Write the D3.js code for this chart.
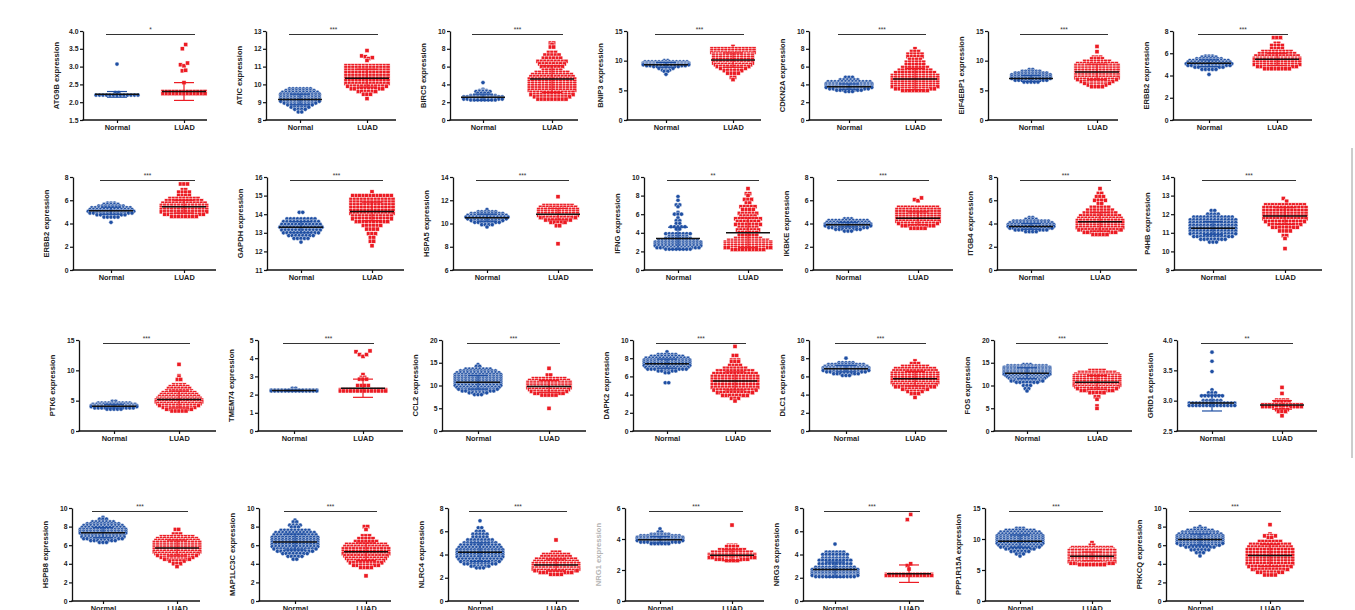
<!DOCTYPE html>
<html>
<head>
<meta charset="utf-8">
<script src="https://cdn.jsdelivr.net/npm/d3@7"></script>
<style>
  body { margin: 0; background: #fff; }
  svg { display: block; font-family: "Liberation Sans", Arial, sans-serif; }
</style>
</head>
<body>
<svg id="chart" width="1355" height="610"></svg>
<script>
const groups = ["Normal", "LUAD"];

const genes = ["ATG9B", "ATIC", "BIRC5", "BNIP3", "CDKN2A", "EIF4EBP1", "ERBB2",
  "ERBB2", "GAPDH", "HSPA5", "IFNG", "IKBKE", "ITGB4", "P4HB",
  "PTK6", "TMEM74", "CCL2", "DAPK2", "DLC1", "FOS", "GRID1",
  "HSPB8", "MAP1LC3C", "NLRC4", "NRG1", "NRG3", "PPP1R15A", "PRKCQ"];

const yTicks = [
  [1.5, 2, 2.5, 3, 3.5, 4], [8, 9, 10, 11, 12, 13], [0, 2, 4, 6, 8, 10], [0, 5, 10, 15],
  [0, 2, 4, 6, 8, 10], [0, 5, 10, 15], [0, 2, 4, 6, 8],
  [0, 2, 4, 6, 8], [11, 12, 13, 14, 15, 16], [6, 8, 10, 12, 14], [0, 2, 4, 6, 8, 10],
  [0, 2, 4, 6, 8], [0, 2, 4, 6, 8], [9, 10, 11, 12, 13, 14],
  [0, 5, 10, 15], [0, 1, 2, 3, 4, 5], [0, 5, 10, 15, 20], [0, 2, 4, 6, 8, 10],
  [0, 2, 4, 6, 8, 10], [0, 5, 10, 15, 20], [2.5, 3, 3.5, 4],
  [0, 2, 4, 6, 8, 10], [0, 2, 4, 6, 8, 10], [0, 2, 4, 6, 8], [0, 2, 4, 6],
  [0, 2, 4, 6, 8], [0, 5, 10, 15], [0, 2, 4, 6, 8, 10]];

const stars = ["*", "***", "***", "***", "***", "***", "***",
  "***", "***", "***", "**", "***", "***", "***",
  "***", "***", "***", "***", "***", "***", "**",
  "***", "***", "***", "***", "***", "***", "***"];

const normalMean = [2.22, 9.15, 2.55, 9.3, 3.75, 7.0, 5.1, 5.1, 13.3, 10.5, 3.4, 3.9, 3.75, 11.25,
  4.1, 2.22, 10.7, 7.4, 6.85, 12.7, 2.96, 7.35, 6.35, 4.2, 3.95, 2.7, 9.65, 6.6];
const luadMean = [2.3, 10.35, 4.6, 10.1, 4.6, 8.1, 5.45, 5.45, 14.15, 10.8, 4.0, 4.45, 4.15, 11.9,
  5.2, 2.35, 9.8, 5.5, 5.75, 10.7, 2.93, 5.7, 5.3, 3.1, 2.95, 2.35, 7.2, 4.9];
const normalSD = [0.08, 0.3, 0.35, 0.4, 0.3, 0.5, 0.3, 0.3, 0.3, 0.3, 1.2, 0.2, 0.25, 0.35,
  0.3, 0.03, 1.5, 0.5, 0.35, 1.2, 0.13, 0.55, 0.85, 0.8, 0.2, 0.65, 1.0, 0.6];
const luadSD = [0.25, 0.5, 1.5, 1.2, 1.2, 1.3, 0.55, 0.55, 0.5, 0.5, 1.6, 0.55, 0.8, 0.45,
  1.4, 0.5, 1.3, 1.0, 0.8, 1.5, 0.07, 0.85, 0.95, 0.5, 0.35, 0.75, 0.7, 1.2];

// each row: [value, count] or [[v1, v2, ...]] for single points side by side
const normalRows = [
  [[3.07, 1], [2.27, 2], [2.2, 13]],
  [[9.75, 7], [9.65, 9], [9.55, 11], [9.45, 12], [9.35, 12], [9.25, 12], [9.15, 12], [9.05, 12], [8.95, 10], [8.85, 8], [8.72, 6], [8.6, 4], [8.45, 2]],
  [[4.2, 1], [3.45, 1], [3.3, 3], [3.2, 5], [3.0, 4], [2.75, 8], [2.6, 12], [2.45, 12], [2.35, 12], [2.25, 8]],
  [[10.0, 2], [9.8, 13], [9.6, 14], [9.45, 14], [9.3, 14], [9.15, 12], [9.0, 8], [8.7, 5], [8.4, 3], [8.2, 2], [7.7, 1]],
  [[4.8, 3], [4.5, 6], [4.3, 13], [4.1, 14], [3.95, 14], [3.8, 14], [3.65, 14], [3.5, 12], [3.35, 8], [3.2, 3]],
  [[8.5, 2], [8.2, 6], [7.9, 10], [7.6, 12], [7.3, 12], [7.0, 12], [6.7, 10], [6.4, 5]],
  [[5.75, 3], [5.65, 5], [5.5, 8], [5.35, 12], [5.2, 13], [5.05, 14], [4.9, 13], [4.75, 9], [4.55, 5], [4.1, 1]],
  [[5.75, 3], [5.65, 5], [5.5, 8], [5.35, 12], [5.2, 13], [5.05, 14], [4.9, 13], [4.75, 9], [4.55, 5], [4.1, 1]],
  [[14.1, 2], [13.75, 9], [13.6, 11], [13.45, 12], [13.3, 13], [13.15, 12], [13.0, 11], [12.85, 8], [12.7, 5], [12.5, 1]],
  [[11.2, 1], [11.0, 6], [10.85, 10], [10.7, 12], [10.55, 13], [10.4, 12], [10.25, 10], [10.1, 8], [9.9, 4], [9.7, 1]],
  [[7.9, 1], [7.5, 1], [7.0, 2], [6.8, 1], [6.2, 1], [6.0, 3], [5.6, 1], [5.3, 2], [5.0, 2], [4.65, 5], [4.4, 2], [3.9, 8], [3.6, 6], [3.4, 8], [3.2, 12], [3.0, 14], [2.8, 14], [2.6, 14], [2.4, 13], [2.25, 8]],
  [[4.4, 3], [4.25, 12], [4.1, 13], [3.95, 14], [3.8, 14], [3.65, 12], [3.5, 8], [3.35, 3]],
  [[4.5, 2], [4.35, 4], [4.2, 11], [4.05, 13], [3.9, 14], [3.75, 14], [3.6, 13], [3.45, 10], [3.3, 4]],
  [[12.2, 2], [12.0, 4], [11.85, 12], [11.7, 14], [11.55, 14], [11.4, 14], [11.25, 14], [11.1, 14], [10.95, 14], [10.8, 12], [10.65, 8], [10.5, 3]],
  [[4.9, 2], [4.6, 10], [4.4, 13], [4.2, 14], [4.0, 14], [3.8, 12], [3.6, 5]],
  [[2.35, 2], [2.25, 14], [2.2, 14]],
  [[14.6, 1], [14.2, 2], [13.6, 8], [13.2, 11], [12.8, 13], [12.4, 14], [12.0, 14], [11.6, 14], [11.2, 14], [10.8, 14], [10.4, 14], [10.0, 14], [9.6, 13], [9.2, 12], [8.8, 10], [8.4, 6], [8.0, 3]],
  [[8.7, 1], [8.4, 6], [8.2, 10], [8.0, 13], [7.8, 14], [7.6, 14], [7.4, 14], [7.2, 14], [7.0, 13], [6.8, 12], [6.6, 6], [6.4, 2], [5.3, 2]],
  [[8.0, 1], [7.5, 5], [7.3, 11], [7.1, 13], [6.95, 14], [6.8, 14], [6.65, 14], [6.5, 12], [6.3, 8], [6.1, 3]],
  [[14.6, 3], [14.3, 12], [14.0, 14], [13.7, 14], [13.4, 14], [13.1, 14], [12.8, 14], [12.5, 14], [12.2, 13], [11.9, 12], [11.6, 11], [11.3, 10], [11.0, 10], [10.7, 7], [10.0, 3], [9.3, 2], [8.8, 1]],
  [[3.8, 1], [3.65, 1], [3.48, 1], [3.18, 1], [3.13, 3], [3.08, 7], [3.0, 6], [2.96, 14], [2.92, 14]],
  [[9.0, 1], [8.8, 3], [8.5, 7], [8.3, 10], [8.1, 12], [7.9, 13], [7.7, 14], [7.5, 14], [7.3, 14], [7.1, 13], [6.9, 13], [6.7, 12], [6.5, 8], [6.3, 3]],
  [[8.7, 1], [8.5, 2], [8.15, 4], [7.95, 3], [7.6, 9], [7.35, 12], [7.1, 13], [6.85, 14], [6.6, 14], [6.35, 14], [6.1, 14], [5.85, 14], [5.6, 13], [5.35, 11], [5.1, 8], [4.8, 5], [4.5, 2]],
  [[6.9, 1], [6.3, 2], [6.0, 3], [5.75, 5], [5.5, 5], [5.25, 8], [5.0, 10], [4.8, 12], [4.6, 13], [4.4, 14], [4.2, 14], [4.0, 14], [3.8, 14], [3.6, 13], [3.4, 12], [3.2, 10], [3.0, 6], [2.85, 3]],
  [[4.65, 1], [4.45, 2], [4.3, 6], [4.2, 12], [4.1, 14], [4.0, 14], [3.9, 14], [3.8, 12], [3.7, 6]],
  [[4.9, 1], [4.2, 6], [4.0, 8], [3.7, 8], [3.5, 10], [3.2, 10], [2.9, 12], [2.7, 14], [2.5, 14], [2.35, 14], [2.2, 14], [2.1, 12]],
  [[11.7, 3], [11.4, 9], [11.1, 12], [10.8, 13], [10.5, 14], [10.2, 14], [9.9, 14], [9.6, 14], [9.3, 14], [9.0, 13], [8.7, 12], [8.4, 9], [8.0, 6], [7.6, 3], [7.25, 1]],
  [[8.0, 1], [7.8, 4], [7.6, 8], [7.4, 11], [7.2, 13], [7.0, 14], [6.8, 14], [6.6, 14], [6.4, 14], [6.2, 14], [6.0, 12], [5.8, 9], [5.5, 6], [5.2, 3], [4.85, 1]]
];

const luadRows = [
  [[[3.5, 3.62]], [[3.05, 3.02, 3.1]], [[2.88, 2.9]], [2.55, 1], [2.3, 13], [2.24, 13]],
  [[11.9, 1], [[11.6, 11.55, 11.45, 11.5]], [11.35, 1], [11.05, 13], [10.95, 13], [10.8, 13], [10.65, 13], [10.5, 13], [10.35, 13], [10.2, 13], [10.05, 13], [9.9, 12], [9.75, 10], [9.6, 6], [9.45, 3], [9.2, 1]],
  [[8.65, 2], [8.5, 1], [8.2, 2], [7.6, 3], [7.3, 5], [6.95, 6], [6.6, 9], [6.3, 8], [6.0, 7], [5.6, 6], [5.35, 10], [5.1, 12], [4.85, 13], [4.6, 14], [4.35, 14], [4.1, 14], [3.85, 14], [3.6, 14], [3.35, 14], [3.1, 13], [2.85, 13], [2.6, 11], [2.35, 9]],
  [[12.4, 1], [12.0, 13], [11.7, 13], [11.4, 13], [11.1, 12], [10.8, 12], [10.5, 12], [10.2, 12], [9.9, 12], [9.6, 12], [9.3, 11], [9.0, 10], [8.7, 8], [8.3, 6], [7.9, 4], [7.2, 2], [6.8, 1]],
  [[8.0, 1], [7.7, 3], [7.4, 5], [7.1, 5], [6.8, 4], [6.5, 6], [6.2, 6], [5.9, 8], [5.6, 10], [5.3, 12], [5.0, 14], [4.75, 14], [4.5, 14], [4.25, 14], [4.0, 14], [3.75, 14], [3.5, 12], [3.3, 8]],
  [[12.4, 1], [11.5, 1], [10.6, 3], [10.3, 4], [9.9, 8], [9.5, 12], [9.2, 13], [8.9, 13], [8.6, 13], [8.3, 13], [8.0, 13], [7.7, 13], [7.4, 13], [7.1, 13], [6.8, 12], [6.5, 10], [6.2, 8], [5.9, 6], [5.6, 4]],
  [[7.4, 3], [6.9, 2], [6.7, 4], [6.4, 4], [6.15, 9], [5.95, 11], [5.75, 13], [5.55, 14], [5.4, 14], [5.2, 14], [5.0, 14], [4.8, 12], [4.6, 8]],
  [[7.4, 3], [6.9, 2], [6.7, 4], [6.4, 4], [6.15, 9], [5.95, 11], [5.75, 13], [5.55, 14], [5.4, 14], [5.2, 14], [5.0, 14], [4.8, 12], [4.6, 8]],
  [[15.2, 1], [15.0, 12], [14.8, 13], [14.65, 13], [14.5, 13], [14.35, 13], [14.2, 13], [14.05, 13], [13.9, 12], [13.75, 12], [13.6, 10], [13.4, 6], [13.2, 4], [12.95, 3], [12.75, 2], [12.55, 2], [12.3, 1]],
  [[12.3, 1], [11.55, 9], [11.4, 11], [11.2, 12], [11.0, 12], [10.85, 12], [10.7, 12], [10.5, 11], [10.3, 8], [10.1, 5], [9.8, 2], [8.25, 1]],
  [[8.75, 1], [8.2, 2], [8.0, 1], [7.6, 3], [7.2, 2], [6.8, 5], [6.5, 4], [6.1, 6], [5.8, 5], [5.5, 8], [5.2, 7], [4.9, 8], [4.6, 6], [4.3, 7], [4.0, 6], [3.7, 6], [3.4, 8], [3.2, 12], [3.0, 14], [2.8, 14], [2.6, 14], [2.4, 14], [2.2, 10]],
  [[[6.05, 5.95, 6.2]], [5.4, 12], [5.2, 13], [5.0, 13], [4.8, 13], [4.6, 13], [4.4, 13], [4.2, 13], [4.0, 12], [3.8, 10], [3.6, 5]],
  [[7.0, 1], [6.6, 2], [6.3, 3], [6.0, 4], [5.7, 2], [5.4, 6], [5.15, 8], [4.9, 10], [4.65, 12], [4.45, 13], [4.25, 14], [4.05, 14], [3.85, 14], [3.65, 14], [3.45, 13], [3.25, 10], [3.05, 5]],
  [[[12.85, 12.7]], [12.5, 12], [12.35, 13], [12.2, 13], [12.05, 13], [11.9, 13], [11.75, 13], [11.6, 12], [11.45, 10], [11.3, 8], [11.1, 4], [10.85, 2], [10.7, 1], [10.15, 1]],
  [[11.0, 1], [9.1, 1], [8.9, 1], [8.5, 2], [7.6, 4], [7.3, 6], [7.0, 7], [6.6, 8], [6.3, 10], [6.0, 11], [5.7, 12], [5.4, 13], [5.1, 14], [4.8, 14], [4.5, 13], [4.2, 12], [3.9, 10], [3.6, 8], [3.3, 5]],
  [[[4.35, 4.2, 4.1, 4.2, 4.4]], [3.1, 1], [2.95, 2], [2.85, 3], [2.5, 4], [2.27, 14], [2.2, 14]],
  [[13.8, 1], [12.3, 2], [11.5, 10], [11.1, 12], [10.7, 13], [10.3, 13], [9.9, 13], [9.5, 13], [9.1, 12], [8.7, 11], [8.3, 9], [7.9, 5], [5.0, 1]],
  [[9.3, 1], [8.3, 2], [7.8, 3], [7.6, 3], [7.2, 4], [6.9, 7], [6.6, 11], [6.3, 13], [6.0, 14], [5.7, 14], [5.4, 14], [5.1, 14], [4.8, 14], [4.5, 13], [4.2, 11], [3.9, 8], [3.6, 3], [3.3, 1]],
  [[7.7, 1], [7.4, 3], [7.1, 8], [6.85, 12], [6.6, 13], [6.35, 14], [6.1, 14], [5.85, 14], [5.6, 14], [5.35, 14], [5.1, 13], [4.85, 12], [4.6, 8], [4.35, 5], [4.1, 3], [3.7, 1]],
  [[13.3, 5], [12.9, 11], [12.5, 13], [12.1, 14], [11.7, 14], [11.3, 14], [10.9, 14], [10.5, 14], [10.1, 14], [9.7, 13], [9.3, 12], [8.9, 10], [8.4, 5], [7.5, 2], [7.0, 1], [5.5, 1], [5.0, 1]],
  [[3.22, 1], [3.12, 1], [3.01, 4], [2.98, 5], [2.93, 12], [2.9, 12], [2.85, 4], [2.82, 3], [2.75, 1]],
  [[7.7, 2], [7.2, 3], [6.9, 10], [6.7, 12], [6.5, 13], [6.3, 14], [6.1, 14], [5.9, 14], [5.7, 14], [5.5, 14], [5.3, 14], [5.1, 13], [4.9, 12], [4.7, 10], [4.5, 8], [4.3, 5], [4.0, 3], [3.7, 1]],
  [[8.0, 2], [7.7, 1], [7.0, 3], [6.7, 5], [6.4, 7], [6.1, 12], [5.85, 13], [5.6, 14], [5.35, 14], [5.1, 14], [4.85, 13], [4.6, 12], [4.35, 11], [4.1, 10], [3.85, 8], [3.6, 4], [2.7, 1]],
  [[5.25, 1], [4.2, 3], [4.0, 8], [3.8, 9], [3.6, 12], [3.4, 13], [3.2, 14], [3.05, 14], [2.9, 14], [2.75, 14], [2.6, 13], [2.45, 10], [2.3, 4]],
  [[4.9, 1], [3.6, 3], [3.5, 4], [3.3, 8], [3.15, 12], [3.0, 14], [2.9, 14], [2.8, 14], [2.7, 10], [2.6, 4]],
  [[[7.0, 7.45]], [[3.05, 3.2]], [2.75, 1], [2.3, 14], [2.2, 14]],
  [[9.4, 1], [9.0, 2], [8.6, 12], [8.35, 13], [8.1, 14], [7.85, 14], [7.6, 14], [7.35, 14], [7.1, 14], [6.85, 14], [6.6, 14], [6.35, 14], [6.1, 13], [5.85, 8]],
  [[8.2, 1], [7.2, 1], [7.0, 4], [6.8, 2], [6.4, 7], [6.1, 12], [5.8, 13], [5.5, 14], [5.2, 14], [4.9, 14], [4.6, 14], [4.3, 14], [4.0, 14], [3.7, 13], [3.4, 11], [3.1, 8], [2.8, 4]]
];

// panel layout (pixels), per grid row: y-axis x, x-axis right end, group centres
const rowTop = [31, 177, 340, 508];
const rowBottom = [120, 270, 431, 601];
const axisLeft = [
  [83, 266, 450, 627, 809, 988, 1173],
  [73, 267, 453, 644, 813, 997, 1174],
  [79, 258, 442, 633, 809, 994, 1177],
  [72, 259, 448, 625, 803, 985, 1166]];
const axisRight = [
  [207, 396, 578, 761, 942, 1118, 1312],
  [216, 404, 593, 783, 953, 1137, 1322],
  [216, 403, 586, 771, 947, 1132, 1317],
  [200, 391, 579, 764, 924, 1111, 1304]];
const normalX = [
  [117, 300, 483, 666, 849, 1031, 1209],
  [111, 301, 487, 678, 848, 1031, 1213],
  [114, 294, 478, 667, 846, 1027, 1212],
  [103, 295, 480, 660, 835, 1020, 1200]];
const luadX = [
  [184, 367, 552, 733, 915, 1097, 1277],
  [184, 372, 558, 748, 918, 1100, 1285],
  [179, 363, 549, 735, 915, 1097, 1282],
  [177, 366, 556, 732, 909, 1092, 1270]];

const blue = "#1f4fa3", red = "#ec1c24";
const dx = 3.5;

const svg = d3.select("#chart");

function expand(rows, cx, y) {
  const pts = [];
  rows.forEach(row => {
    const vals = Array.isArray(row[0]) ? row[0] : d3.range(row[1]).map(() => row[0]);
    const n = vals.length;
    vals.forEach((v, k) => pts.push({ x: cx + (k - (n - 1) / 2) * dx, y: y(v) }));
  });
  return pts;
}

genes.forEach((gene, i) => {
  const r = Math.floor(i / 7), c = i % 7;
  const x0 = axisLeft[r][c], x1 = axisRight[r][c];
  const top = rowTop[r], bottom = rowBottom[r];
  const g = svg.append("g");

  const y = d3.scaleLinear().domain(d3.extent(yTicks[i])).range([bottom, top]);
  const x = d3.scalePoint().domain(groups).range([normalX[r][c], luadX[r][c]]);
  const decimal = yTicks[i].some(t => t % 1 !== 0);
  const fmt = decimal ? d3.format(".1f") : d3.format("d");

  // y axis
  const ya = g.append("g").attr("transform", `translate(${x0},0)`)
    .call(d3.axisLeft(y).tickValues(yTicks[i]).tickFormat(fmt).tickSize(3).tickSizeOuter(0));
  ya.select(".domain").attr("stroke", "#111").attr("stroke-width", 1.3);
  ya.selectAll(".tick line").attr("stroke", "#111").attr("stroke-width", 1.2);
  ya.selectAll(".tick text").attr("x", -4.5).attr("font-size", 6.8).attr("font-weight", "bold")
    .attr("fill", "#222").attr("font-family", "Liberation Sans, Arial, sans-serif");

  // x axis
  const xa = g.append("g").attr("transform", `translate(0,${bottom})`)
    .call(d3.axisBottom(x).tickSize(3).tickSizeOuter(0));
  xa.select(".domain").remove();
  xa.selectAll(".tick line").attr("stroke", "#111").attr("stroke-width", 1.2);
  xa.selectAll(".tick text").attr("y", 5).attr("font-size", 7.4).attr("font-weight", "bold")
    .attr("fill", "#222").attr("font-family", "Liberation Sans, Arial, sans-serif");
  g.append("line").attr("x1", x0 - 0.6).attr("x2", x1).attr("y1", bottom).attr("y2", bottom)
    .attr("stroke", "#111").attr("stroke-width", 1.3);

  // y label
  g.append("text")
    .attr("transform", `translate(${x0 - 24},${(top + bottom) / 2}) rotate(-90)`)
    .attr("text-anchor", "middle").attr("font-size", 7.6).attr("font-weight", "bold")
    .attr("fill", gene === "NRG1" ? "#b5b5b5" : "#222")
    .text(gene + " expression");

  // significance bar
  const s0 = x("Normal") - 11, s1 = x("LUAD") + 11;
  g.append("line").attr("x1", s0).attr("x2", s1)
    .attr("y1", top + 3.5).attr("y2", top + 3.5).attr("stroke", "#333").attr("stroke-width", 1.1);
  g.append("text").attr("x", (s0 + s1) / 2).attr("y", top + 1)
    .attr("text-anchor", "middle").attr("font-size", 6.5).attr("fill", "#333").text(stars[i]);

  // points (thin white rims give the row texture of the original)
  const nPts = expand(normalRows[i], x("Normal"), y);
  const lPts = expand(luadRows[i], x("LUAD"), y);
  g.append("g").selectAll("circle").data(nPts).join("circle")
    .attr("cx", d => d.x).attr("cy", d => d.y).attr("r", 2.1).attr("fill", blue)
    .attr("stroke", "#fff").attr("stroke-width", 0.45);
  g.append("g").selectAll("rect").data(lPts).join("rect")
    .attr("x", d => d.x - 2.05).attr("y", d => d.y - 2.05).attr("width", 4.1).attr("height", 4.1)
    .attr("fill", red).attr("stroke", "#fff").attr("stroke-width", 0.45);

  // mean ± SD
  [["Normal", normalMean[i], normalSD[i], blue], ["LUAD", luadMean[i], luadSD[i], red]].forEach(([grp, m, sd, col]) => {
    const cx = x(grp);
    const eg = g.append("g").attr("stroke", col).attr("stroke-width", 1.2);
    eg.append("line").attr("x1", cx).attr("x2", cx).attr("y1", y(m + sd)).attr("y2", y(m - sd));
    eg.append("line").attr("x1", cx - 10).attr("x2", cx + 10).attr("y1", y(m + sd)).attr("y2", y(m + sd));
    eg.append("line").attr("x1", cx - 10).attr("x2", cx + 10).attr("y1", y(m - sd)).attr("y2", y(m - sd));
    g.append("line").attr("x1", cx - 22).attr("x2", cx + 22).attr("y1", y(m)).attr("y2", y(m))
      .attr("stroke", "#111").attr("stroke-width", 1.5);
  });
});

// thin frame line at the right edge
svg.append("line").attr("x1", 1352).attr("x2", 1352).attr("y1", 148).attr("y2", 458)
  .attr("stroke", "#9a9a9a").attr("stroke-width", 1);
</script>
</body>
</html>
